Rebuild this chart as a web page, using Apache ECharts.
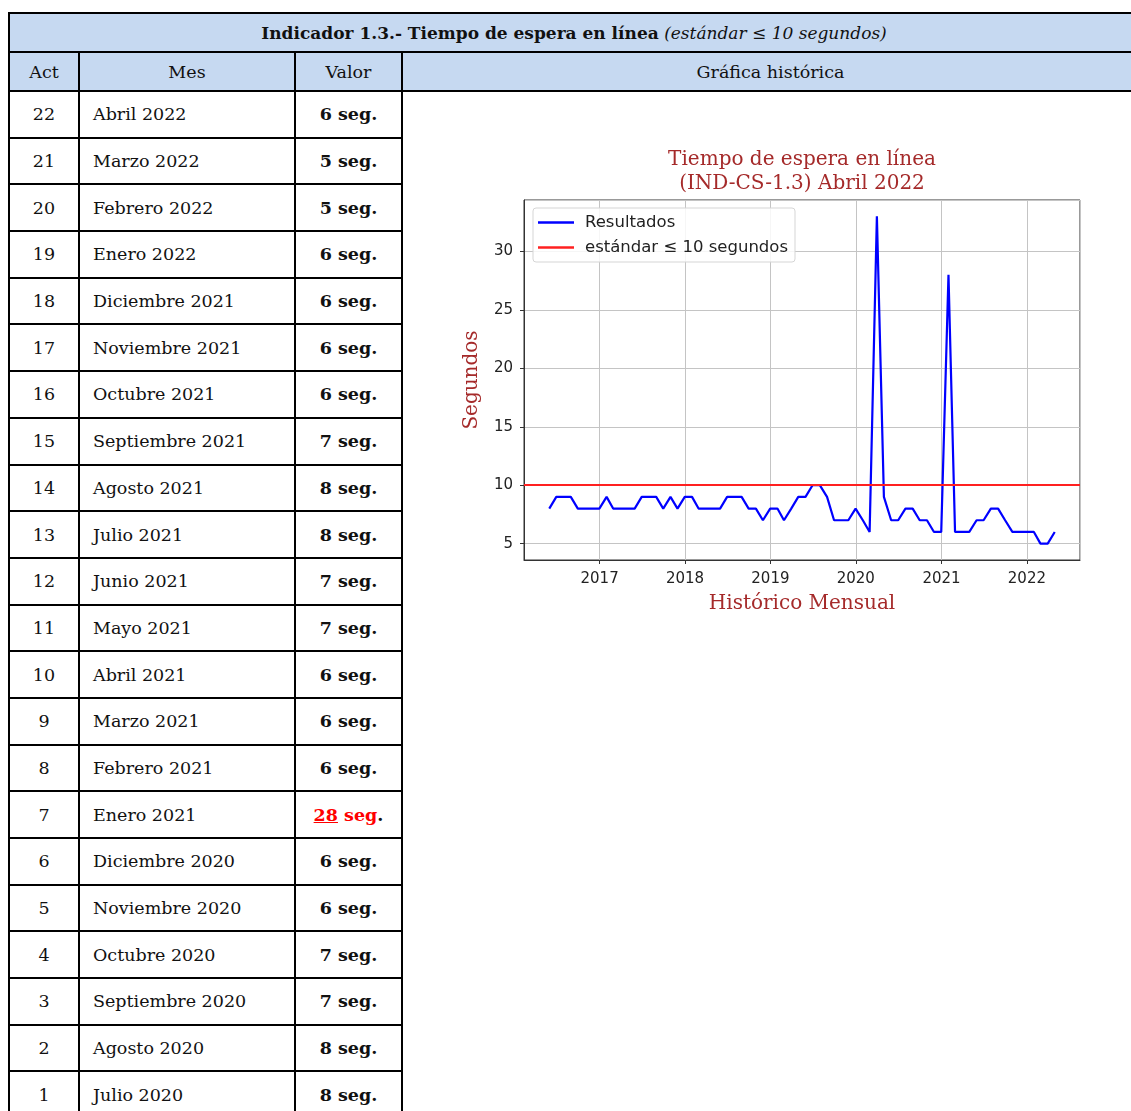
<!DOCTYPE html>
<html><head><meta charset="utf-8">
<script src="https://cdn.jsdelivr.net/npm/echarts@6/dist/echarts.min.js"></script>
<style>
html,body{margin:0;padding:0;background:#fff;width:1131px;height:1111px;overflow:hidden;}
#tbl{position:absolute;left:8px;top:12px;border-collapse:collapse;table-layout:fixed;width:1130px;
  font-family:"DejaVu Serif",serif;font-size:17.5px;color:#111;}
#tbl td{border:2px solid #000;padding:0;white-space:nowrap;overflow:hidden;}
#tbl tr.h td{background:#c6d9f1;height:37px;text-align:center;}
#tbl tr.t td{font-size:17px;}
#tbl tr.d td{height:44.7px;}
#tbl td.act{text-align:center;}
#tbl td.mes{text-align:left;padding-left:13px;}
#tbl td.val{text-align:center;font-weight:bold;}
#tbl td.graf{border-bottom:none;background:#fff;}
.red{color:#ff0000;}
#chart{position:absolute;left:402px;top:0;width:800px;height:1111px;z-index:2;pointer-events:none;}
</style></head>
<body>
<table id="tbl">
<colgroup><col style="width:70px"><col style="width:216px"><col style="width:107px"><col style="width:737px"></colgroup>
<tbody id="tb">
<tr class="h t"><td colspan="4"><b>Indicador 1.3.- Tiempo de espera en línea</b> <i>(estándar ≤ 10 segundos)</i></td></tr>
<tr class="h"><td>Act</td><td>Mes</td><td>Valor</td><td>Gráfica histórica</td></tr>
</tbody></table>
<div id="chart"></div>
<script>
// ---- table data ----
const acts = [22,21,20,19,18,17,16,15,14,13,12,11,10,9,8,7,6,5,4,3,2,1];
const meses = ['Abril 2022','Marzo 2022','Febrero 2022','Enero 2022','Diciembre 2021','Noviembre 2021','Octubre 2021',
  'Septiembre 2021','Agosto 2021','Julio 2021','Junio 2021','Mayo 2021','Abril 2021','Marzo 2021','Febrero 2021',
  'Enero 2021','Diciembre 2020','Noviembre 2020','Octubre 2020','Septiembre 2020','Agosto 2020','Julio 2020'];
const valores = [6,5,5,6,6,6,6,7,8,8,7,7,6,6,6,28,6,6,7,7,8,8];

// ---- chart data (monthly, May 2016 – April 2022) ----
const v2016 = [8,9,9,9,8,8,8,8];            // May..Dec
const v2017 = [9,8,8,8,8,9,9,9,8,9,8,9];
const v2018 = [9,8,8,8,8,9,9,9,8,8,7,8];
const v2019 = [8,7,8,9,9,10,10,9,7,7,7,8];
const v2020 = [7,6,33,9,7,7,8,8,7,7,6,6];
const v2021 = [28,6,6,6,7,7,8,8,7,6,6,6];
const v2022 = [6,5,5,6];                   // Jan..Apr
const estandar = 10;
const xTicks = ['2017','2018','2019','2020','2021','2022'];

// build table
const tb = document.getElementById('tb');
acts.forEach((a,i)=>{
  const tr = document.createElement('tr'); tr.className='d';
  let valHtml = valores[i] > estandar
    ? '<span class="red"><u>'+valores[i]+'</u> seg</span>.'
    : valores[i]+' seg.';
  tr.innerHTML = '<td class="act">'+a+'</td><td class="mes">'+meses[i]+'</td><td class="val">'+valHtml+'</td>' +
    (i===0 ? '<td class="graf" rowspan="'+acts.length+'"></td>' : '');
  tb.appendChild(tr);
});

// build series
const blocks = [[2016,5,v2016],[2017,1,v2017],[2018,1,v2018],[2019,1,v2019],[2020,1,v2020],[2021,1,v2021],[2022,1,v2022]];
const resultados = [];
blocks.forEach(([y,m0,arr])=>{
  arr.forEach((v,k)=>{
    const m = m0 + k; // 1-based month
    resultados.push([new Date(y, m, 0).getTime(), v]); // last day of month
  });
});

const chart = echarts.init(document.getElementById('chart'), null, {renderer:'canvas'});
const sans = 'DejaVu Sans', serif = 'DejaVu Serif';
chart.setOption({
  animation:false,
  title:{text:'Tiempo de espera en línea\n(IND-CS-1.3) Abril 2022', left:'center', top:143,
    textStyle:{fontFamily:serif, fontSize:20, fontWeight:'normal', color:'#a52a2a', lineHeight:24}},
  legend:{orient:'vertical', left:131, top:208, itemWidth:36, itemHeight:2.5, itemGap:8, icon:'rect',
    padding:[6,7,6,5], backgroundColor:'rgba(255,255,255,0.85)', borderColor:'#d5d5d5', borderWidth:1, borderRadius:3,
    textStyle:{fontFamily:sans, fontSize:16.5, color:'#222', lineHeight:17, padding:[0,0,0,6]},
    data:['Resultados','estándar ≤ 10 segundos']},
  grid:{left:122, top:200, width:556, height:360, show:true, borderColor:'#333', borderWidth:1},
  xAxis:{type:'time', min:new Date(2016,1,13).getTime(), max:new Date(2022,7,16).getTime(), splitNumber:6,
    name:'Histórico Mensual', nameLocation:'middle', nameGap:34,
    nameTextStyle:{fontFamily:serif, fontSize:20, color:'#a52a2a'},
    axisLine:{show:true, lineStyle:{color:'#333'}},
    axisTick:{show:true, length:4, lineStyle:{color:'#333'}},
    axisLabel:{fontFamily:sans, fontSize:15, color:'#222', margin:12, showMinLabel:false, showMaxLabel:false,
      formatter:(v)=>{const y=String(new Date(v).getFullYear()); return xTicks.includes(y)?y:'';}},
    splitLine:{show:true, lineStyle:{color:'#c4c4c4', width:1}}},
  yAxis:{type:'value', min:3.6, max:34.4, splitNumber:6,
    name:'Segundos', nameLocation:'middle', nameGap:42, nameRotate:90,
    nameTextStyle:{fontFamily:serif, fontSize:20, color:'#a52a2a'},
    axisLine:{show:true, lineStyle:{color:'#333'}},
    axisTick:{show:true, length:4, lineStyle:{color:'#333'}},
    axisLabel:{fontFamily:sans, fontSize:15, color:'#222', margin:11, showMinLabel:false, showMaxLabel:false},
    splitLine:{show:true, lineStyle:{color:'#c4c4c4', width:1}}},
  series:[
    {name:'Resultados', type:'line', data:resultados, symbol:'none', color:'#0000ff',
      lineStyle:{color:'#0000ff', width:2.2}, z:3},
    {name:'estándar ≤ 10 segundos', type:'line', data:[], symbol:'none', color:'#ff2020',
      lineStyle:{color:'#ff2020', width:2.2}, z:4,
      markLine:{silent:true, symbol:['none','none'], label:{show:false},
        lineStyle:{color:'#ff2020', width:2.2, type:'solid'}, data:[{yAxis:estandar}]}}
  ]
});
</script>
</body></html>
